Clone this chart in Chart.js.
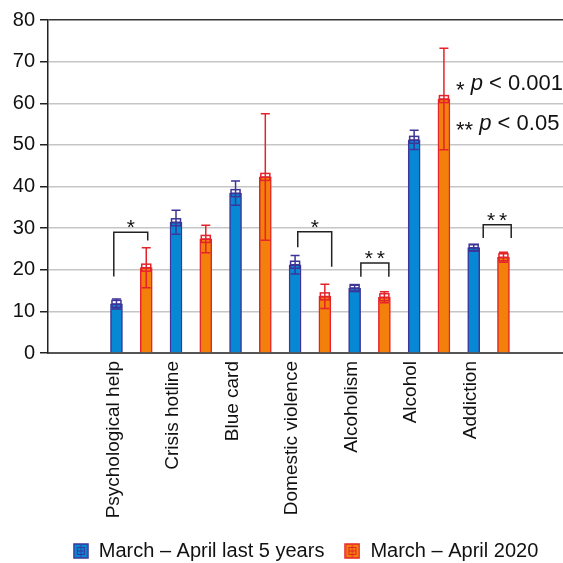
<!DOCTYPE html>
<html>
<head>
<meta charset="utf-8">
<script src="https://cdn.jsdelivr.net/npm/chart.js@4"></script>
<style>
  html, body { margin: 0; padding: 0; background: #fff; }
  #wrap { width: 563px; height: 563px; }
</style>
</head>
<body>
<div id="wrap"><canvas id="calls" width="563" height="563"></canvas></div>
<script>
const cats = ['Psychological help', 'Crisis hotline', 'Blue card', 'Domestic violence', 'Alcoholism', 'Alcohol', 'Addiction']
const last5 = [11.8, 31.4, 38.4, 21.2, 15.6, 51.2, 25.3]
const last5Err = [1.2, 2.9, 2.9, 2.2, 0.7, 2.3, 0.7]
const y2020 = [20.5, 27.4, 42.3, 13.6, 13.4, 61.0, 23.0]
const y2020Err = [4.8, 3.3, 15.2, 2.9, 1.3, 12.2, 1.2]
const yTicks = [0, 10, 20, 30, 40, 50, 60, 70, 80]

// significance brackets (x in bar slots, y in chart units)
const sigLeft = [-0.09, 6.09, 8.21, 12.32]
const sigRight = [1.05, 7.23, 9.15, 13.26]
const sigTop = [29.0, 29.1, 21.6, 30.8]
const sigLeftEnd = [18.4, 25.4, 18.3, 27.6]
const sigRightEnd = [27.0, 20.7, 18.3, 27.6]
const sigMarks = ['*', '*', '**', '**']

const FONT = "'Liberation Sans', Arial, sans-serif"
const BLUE = '#0788d4', BLUE_EDGE = '#3d3597'
const ORANGE = '#f2800a', ORANGE_EDGE = '#e5232b'

function legendIcon(fill, edge) {
  const c = document.createElement('canvas')
  c.width = 16; c.height = 16
  const g = c.getContext('2d')
  g.fillStyle = fill
  g.fillRect(1, 1, 14, 14)
  g.strokeStyle = edge
  g.lineWidth = 1.5
  g.strokeRect(1, 1, 14, 14)
  g.lineWidth = 1
  g.strokeRect(4.5, 4.5, 7, 7)
  g.beginPath()
  g.moveTo(4.5, 8); g.lineTo(11.5, 8)
  g.moveTo(8, 2); g.lineTo(8, 14)
  g.stroke()
  return c
}

const extras = {
  id: 'extras',
  afterDatasetsDraw(chart) {
    const ctx = chart.ctx
    const xs = chart.scales.x, ys = chart.scales.y
    ctx.save()
    // error bars
    chart.data.datasets.forEach(ds => {
      ctx.strokeStyle = ds.errColor
      ctx.lineWidth = 1.5
      ds.data.forEach((p, i) => {
        const x = xs.getPixelForValue(p.x)
        const yHi = ys.getPixelForValue(p.y + ds.errors[i])
        const yLo = ys.getPixelForValue(p.y - ds.errors[i])
        const ym = ys.getPixelForValue(p.y)
        ctx.beginPath()
        ctx.moveTo(x, yHi); ctx.lineTo(x, yLo)
        ctx.moveTo(x - 4.5, yHi); ctx.lineTo(x + 4.5, yHi)
        ctx.moveTo(x - 4.5, yLo); ctx.lineTo(x + 4.5, yLo)
        ctx.moveTo(x - 4.5, ym); ctx.lineTo(x + 4.5, ym)
        ctx.stroke()
        ctx.strokeRect(x - 4.5, ym - 3.5, 9, 7)
      })
    })
    // brackets
    ctx.strokeStyle = '#222'
    ctx.fillStyle = '#111'
    ctx.lineWidth = 1.5
    ctx.font = '21px ' + FONT
    ctx.textAlign = 'center'
    ctx.textBaseline = 'middle'
    sigMarks.forEach((m, i) => {
      const l = xs.getPixelForValue(sigLeft[i]), r = xs.getPixelForValue(sigRight[i])
      const t = ys.getPixelForValue(sigTop[i])
      ctx.beginPath()
      ctx.moveTo(l, ys.getPixelForValue(sigLeftEnd[i]))
      ctx.lineTo(l, t); ctx.lineTo(r, t)
      ctx.lineTo(r, ys.getPixelForValue(sigRightEnd[i]))
      ctx.stroke()
      const cx = (l + r) / 2
      if (m === '*') ctx.fillText('*', cx, t - 4)
      else { ctx.fillText('*', cx - 6, t - 4); ctx.fillText('*', cx + 6, t - 4) }
    })
    // p-value note
    const runs = [
      [['* ', false], ['p', true], [' < 0.001', false]],
      [['** ', false], ['p', true], [' < 0.05', false]]
    ]
    const baselines = [90, 130]
    ctx.textAlign = 'left'
    ctx.textBaseline = 'alphabetic'
    runs.forEach((line, k) => {
      let x = 456
      line.forEach(([txt, it]) => {
        ctx.font = (it ? 'italic ' : '') + '22px ' + FONT
        if (txt.indexOf('*') >= 0) ctx.fillText(txt, x, baselines[k] + 7)
        else ctx.fillText(txt, x, baselines[k])
        x += ctx.measureText(txt).width
      })
    })
    ctx.restore()
  }
}

const ctx = document.getElementById('calls').getContext('2d')
new Chart(ctx, {
  type: 'bar',
  data: {
    datasets: [{
      label: 'March – April last 5 years',
      data: cats.map((c, i) => ({x: 2 * i, y: last5[i]})),
      backgroundColor: BLUE,
      borderColor: BLUE_EDGE,
      borderWidth: 1.5,
      barThickness: 12,
      grouped: false,
      errors: last5Err,
      errColor: BLUE_EDGE,
      pointStyle: legendIcon(BLUE, BLUE_EDGE)
    }, {
      label: 'March – April 2020',
      data: cats.map((c, i) => ({x: 2 * i + 1, y: y2020[i]})),
      backgroundColor: ORANGE,
      borderColor: ORANGE_EDGE,
      borderWidth: 1.5,
      barThickness: 12,
      grouped: false,
      errors: y2020Err,
      errColor: ORANGE_EDGE,
      pointStyle: legendIcon(ORANGE, ORANGE_EDGE)
    }]
  },
  options: {
    responsive: false,
    animation: false,
    layout: {padding: {top: 20, right: 0, left: 0, bottom: -8}},
    scales: {
      x: {
        type: 'linear',
        offset: false,
        min: -2.3,
        max: 15,
        grid: {display: false},
        border: {color: '#555', width: 2},
        afterBuildTicks: s => { s.ticks = cats.map((c, i) => ({value: 2 * i - 0.1})) },
        afterFit: s => { s.height = 168 },
        ticks: {
          autoSkip: false,
          minRotation: 90,
          maxRotation: 90,
          padding: 0,
          color: '#111',
          font: {family: FONT, size: 19},
          callback: v => cats[Math.round(v / 2)]
        }
      },
      y: {
        min: 0,
        max: 80,
        afterBuildTicks: s => { s.ticks = yTicks.map(v => ({value: v})) },
        afterFit: s => { s.width = 48 },
        grid: {
          color: c => c.tick.value === 80 ? '#333' : '#c6c6c6',
          lineWidth: 1.5,
          tickColor: '#222',
          tickLength: 8
        },
        border: {color: '#222', width: 1.5},
        ticks: {
          padding: 5,
          color: '#111',
          font: {family: FONT, size: 20}
        }
      }
    },
    plugins: {
      tooltip: {enabled: false},
      legend: {
        position: 'bottom',
        fullSize: false,
        labels: {
          usePointStyle: true,
          boxWidth: 16,
          boxHeight: 16,
          padding: 20,
          color: '#111',
          font: {family: FONT, size: 20}
        }
      }
    }
  },
  plugins: [extras]
})
</script>
</body>
</html>
